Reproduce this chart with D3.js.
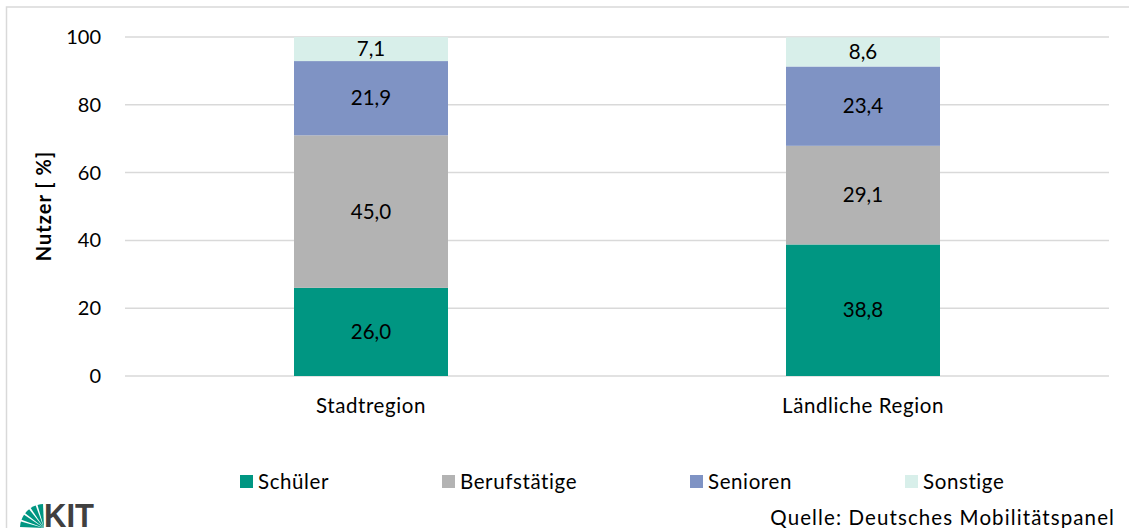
<!DOCTYPE html>
<html>
<head>
<meta charset="utf-8">
<script src="https://cdn.jsdelivr.net/npm/d3@7"></script>
<style>
  html, body { margin: 0; padding: 0; background: #ffffff; }
  svg { display: block; font-family: Lato, "Open Sans", sans-serif; }
</style>
</head>
<body>
<svg id="chart" width="1129" height="528"></svg>
<script>
// Nutzeranteile nach Personengruppe und Raumtyp
const categories = ["Stadtregion", "Ländliche Region"];
const seriesNames = ["Schüler", "Berufstätige", "Senioren", "Sonstige"];
const schueler = [26.0, 38.8];
const berufstaetige = [45.0, 29.1];
const senioren = [21.9, 23.4];
const sonstige = [7.1, 8.6];
const yTicks = [0, 20, 40, 60, 80, 100];
const colors = ["#009682", "#b3b3b3", "#7f93c4", "#d8efea"];

const svg = d3.select("#chart");
const W = 1129, H = 528;
const margin = { left: 125, right: 20, top: 37, bottom: 152 };
const FS = 20.5;

// outer frame
svg.append("rect")
  .attr("x", 6.5).attr("y", 7)
  .attr("width", W + 10).attr("height", H + 10)
  .attr("fill", "none").attr("stroke", "#d9d9d9").attr("stroke-width", 1.5);

const x = d3.scaleBand()
  .domain(categories)
  .range([margin.left, W - margin.right])
  .paddingInner(0.687).paddingOuter(0.3435);

const y = d3.scaleLinear().domain([0, 100]).range([376, 37]);

// gridlines
svg.append("g")
  .selectAll("line")
  .data(yTicks)
  .join("line")
  .attr("x1", margin.left).attr("x2", W - margin.right)
  .attr("y1", d => y(d)).attr("y2", d => y(d))
  .attr("stroke", "#d9d9d9").attr("stroke-width", 1.5);

// y axis labels
const yAxis = d3.axisLeft(y).tickValues(yTicks).tickSize(0).tickPadding(0)
  .tickFormat(d3.format("d"));
const gy = svg.append("g").attr("transform", `translate(${margin.left - 24},0)`).call(yAxis);
gy.select(".domain").remove();
gy.selectAll("text").attr("font-size", 20).attr("fill", "#000").attr("font-family", "Lato, sans-serif");

// y axis title
svg.append("text")
  .attr("transform", "translate(51,206) rotate(-90)")
  .attr("text-anchor", "middle")
  .attr("font-size", 20).attr("font-weight", "bold")
  .attr("letter-spacing", 1)
  .text("Nutzer [ %]");

// stacked bars
const rows = categories.map((c, i) => ({
  cat: c,
  "Schüler": schueler[i],
  "Berufstätige": berufstaetige[i],
  "Senioren": senioren[i],
  "Sonstige": sonstige[i]
}));
const stack = d3.stack().keys(seriesNames)(rows);

const layers = svg.append("g").selectAll("g")
  .data(stack)
  .join("g")
  .attr("fill", (d, i) => colors[i]);

layers.selectAll("rect")
  .data(d => d)
  .join("rect")
  .attr("x", d => x(d.data.cat))
  .attr("width", x.bandwidth())
  .attr("y", d => y(d[1]))
  .attr("height", d => y(d[0]) - y(d[1]));

const fmt = v => v.toFixed(1).replace(".", ",");
layers.selectAll("text")
  .data(d => d.map(p => ({ p, key: d.key })))
  .join("text")
  .attr("x", d => x(d.p.data.cat) + x.bandwidth() / 2)
  .attr("y", d => (y(d.p[0]) + y(d.p[1])) / 2)
  .attr("dy", "0.35em")
  .attr("text-anchor", "middle")
  .attr("font-size", FS).attr("fill", "#000")
  .text(d => fmt(d.p.data[d.key]));

// category labels
const xAxis = d3.axisBottom(x).tickSize(0).tickPadding(0);
const gx = svg.append("g").attr("transform", "translate(0,398)").call(xAxis);
gx.select(".domain").remove();
gx.selectAll("text").attr("font-size", FS).attr("fill", "#000")
  .attr("font-family", "Lato, sans-serif").attr("letter-spacing", 0.6);

// legend
const legendX = [240, 442, 690, 905];
const legend = svg.append("g").selectAll("g")
  .data(seriesNames)
  .join("g")
  .attr("transform", (d, i) => `translate(${legendX[i]},475)`);
legend.append("rect").attr("width", 13).attr("height", 13).attr("fill", (d, i) => colors[i]);
legend.append("text").attr("x", 18).attr("y", 6.5).attr("dy", "0.35em")
  .attr("font-size", FS).attr("fill", "#000").attr("letter-spacing", 0.6).text(d => d);

// source note
svg.append("text")
  .attr("x", 1115).attr("y", 525)
  .attr("text-anchor", "end")
  .attr("font-size", FS).attr("fill", "#000")
  .attr("letter-spacing", 1.1)
  .text("Quelle: Deutsches Mobilitätspanel");

// KIT logo
const logo = svg.append("g").attr("transform", "translate(23,528)");
const fanAngles = [0, 1, 2, 3, 4];
logo.selectAll("path")
  .data(fanAngles)
  .join("path")
  .attr("fill", "#009682")
  .attr("d", i => {
    const a0 = i * (Math.PI / 2) / 5 + 0.04;
    const a1 = a0 + (Math.PI / 2) / 5 - 0.08;
    return d3.arc()({ innerRadius: 0, outerRadius: 24, startAngle: a0, endAngle: a1 });
  })
  .attr("transform", "translate(21,0) scale(-1,1)");
logo.append("text")
  .attr("x", 21).attr("y", -1)
  .attr("font-family", "Liberation Sans, Arial, sans-serif")
  .attr("font-weight", "bold").attr("font-size", 33)
  .attr("fill", "#404040")
  .attr("textLength", 50).attr("lengthAdjust", "spacingAndGlyphs")
  .text("KIT");
</script>
</body>
</html>
